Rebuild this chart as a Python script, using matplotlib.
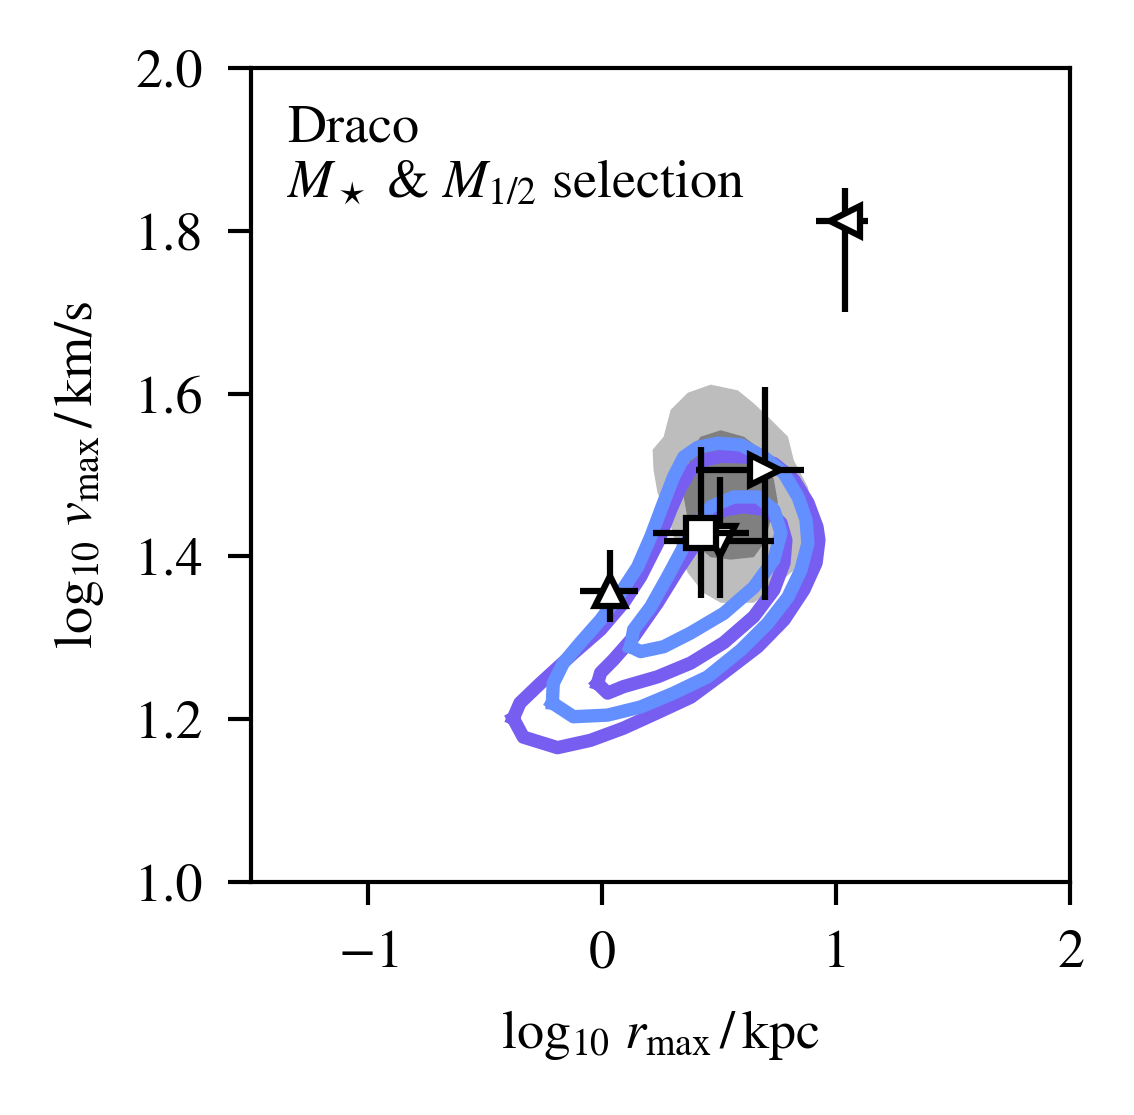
import numpy as np
import matplotlib
matplotlib.use("Agg")
import matplotlib.pyplot as plt

plt.rcParams['font.family'] = ['STIXGeneral', 'DejaVu Serif']
plt.rcParams['mathtext.fontset'] = 'stix'
plt.rcParams['font.size'] = 13

# --- data (log10 rmax [kpc], log10 vmax [km/s]) ---
# filled grey density regions (outer / inner)
grey_outer_x = [0.464, 0.580, 0.648, 0.721, 0.794, 0.819, 0.879, 0.905, 0.895, 0.819,
                0.721, 0.648, 0.507, 0.434, 0.366, 0.336, 0.306, 0.280, 0.237, 0.220,
                0.216, 0.263, 0.293, 0.366]
grey_outer_y = [1.611, 1.604, 1.588, 1.568, 1.547, 1.518, 1.485, 1.448, 1.415, 1.383,
                1.359, 1.343, 1.343, 1.355, 1.380, 1.399, 1.424, 1.453, 1.478, 1.506,
                1.531, 1.547, 1.580, 1.601]
grey_inner_x = [0.507, 0.606, 0.679, 0.734, 0.751, 0.721, 0.691, 0.648, 0.550, 0.464,
                0.392, 0.366, 0.349, 0.366, 0.379, 0.421]
grey_inner_y = [1.555, 1.547, 1.531, 1.494, 1.466, 1.445, 1.416, 1.399, 1.396, 1.399,
                1.416, 1.445, 1.473, 1.506, 1.531, 1.547]

# purple contours (outer / inner)
purple_outer_x = [-0.379, -0.336, -0.190, -0.049, 0.092, 0.237, 0.379, 0.520, 0.665, 0.777,
                  0.862, 0.914, 0.926, 0.918, 0.879, 0.819, 0.734, 0.623, 0.507, 0.434,
                  0.379, 0.336, 0.293, 0.237, 0.165, 0.092, -0.006, -0.122, -0.263, -0.350]
purple_outer_y = [1.201, 1.178, 1.165, 1.174, 1.189, 1.208, 1.227, 1.257, 1.289, 1.322,
                  1.359, 1.392, 1.420, 1.436, 1.466, 1.494, 1.514, 1.522, 1.523, 1.518,
                  1.506, 1.485, 1.457, 1.416, 1.375, 1.343, 1.310, 1.281, 1.244, 1.220]
purple_inner_x = [-0.019, 0.024, 0.092, 0.237, 0.379, 0.520, 0.648, 0.734, 0.777, 0.785,
                  0.764, 0.708, 0.606, 0.520, 0.464, 0.409, 0.323, 0.237, 0.135, 0.049,
                  -0.006]
purple_inner_y = [1.244, 1.232, 1.240, 1.252, 1.269, 1.294, 1.326, 1.359, 1.392, 1.420,
                  1.441, 1.457, 1.461, 1.457, 1.445, 1.420, 1.383, 1.343, 1.301, 1.273,
                  1.257]

# blue contours (outer / inner)
blue_outer_x = [-0.212, -0.122, 0.024, 0.165, 0.306, 0.451, 0.593, 0.708, 0.794, 0.849,
                0.879, 0.871, 0.837, 0.777, 0.691, 0.593, 0.494, 0.409, 0.349, 0.306,
                0.263, 0.208, 0.152, 0.079, -0.006, -0.092, -0.165, -0.208]
blue_outer_y = [1.220, 1.203, 1.205, 1.215, 1.232, 1.252, 1.285, 1.318, 1.350, 1.383,
                1.416, 1.445, 1.473, 1.502, 1.522, 1.537, 1.539, 1.534, 1.522, 1.498,
                1.466, 1.424, 1.387, 1.355, 1.322, 1.294, 1.269, 1.244]
blue_inner_x = [0.122, 0.165, 0.263, 0.379, 0.520, 0.648, 0.734, 0.764, 0.734, 0.665,
                0.563, 0.464, 0.409, 0.349, 0.280, 0.208, 0.135]
blue_inner_y = [1.289, 1.283, 1.289, 1.306, 1.330, 1.362, 1.396, 1.429, 1.457, 1.473,
                1.473, 1.461, 1.441, 1.412, 1.375, 1.338, 1.310]

# observational estimates: marker, x, y, xerr (lo, hi), yerr (lo, hi)
obs_markers = ['^', 'v', 's', '>', '<']
obs_x = [0.034, 0.503, 0.421, 0.695, 1.038]
obs_y = [1.357, 1.419, 1.429, 1.506, 1.812]
obs_xerr_lo = [0.128, 0.240, 0.202, 0.295, 0.124]
obs_xerr_hi = [0.120, 0.231, 0.207, 0.167, 0.098]
obs_yerr_lo = [0.038, 0.070, 0.080, 0.160, 0.112]
obs_yerr_hi = [0.051, 0.079, 0.105, 0.102, 0.041]

xticks = [-1, 0, 1, 2]
yticks = [1.0, 1.2, 1.4, 1.6, 1.8, 2.0]

fig = plt.figure(figsize=(3.78, 3.7167), dpi=300)
ax = fig.add_axes([0.221, 0.209, 0.723, 0.730])

ax.fill(grey_outer_x, grey_outer_y, color='#bdbdbd', lw=0, zorder=1)
ax.fill(grey_inner_x, grey_inner_y, color='#808080', lw=0, zorder=1.5)

def closed(xs, ys):
    return list(xs) + [xs[0]], list(ys) + [ys[0]]

for xs, ys in [(purple_outer_x, purple_outer_y), (purple_inner_x, purple_inner_y)]:
    cx, cy = closed(xs, ys)
    ax.plot(cx, cy, color='#785EF0', lw=3.2, solid_joinstyle='round', zorder=2)
for xs, ys in [(blue_outer_x, blue_outer_y), (blue_inner_x, blue_inner_y)]:
    cx, cy = closed(xs, ys)
    ax.plot(cx, cy, color='#648FFF', lw=3.2, solid_joinstyle='round', zorder=3)

for i, m in enumerate(obs_markers):
    ax.errorbar(obs_x[i], obs_y[i],
                xerr=[[obs_xerr_lo[i]], [obs_xerr_hi[i]]],
                yerr=[[obs_yerr_lo[i]], [obs_yerr_hi[i]]],
                fmt=m, ms=7, mfc='white', mec='black', mew=1.5,
                ecolor='black', elinewidth=1.5, capsize=0, zorder=4 + i)

ax.text(0.044, 0.955, 'Draco\n$M_\\star$ & $M_{1/2}$ selection',
        transform=ax.transAxes, va='top', ha='left', linespacing=1.15)

ax.set_xlim(-1.5, 2)
ax.set_ylim(1.0, 2.0)
ax.set_xticks(xticks)
ax.set_yticks(yticks)
ax.set_xticklabels(['$-1$' if t < 0 else str(t) for t in xticks])
ax.set_yticklabels(['%.1f' % t for t in yticks])
ax.tick_params(direction='out', length=5.5, width=1, pad=6)
for s in ax.spines.values():
    s.set_linewidth(1)

ax.set_xlabel('$\\log_{10}\\, r_{\\rm max}\\,/\\,{\\rm kpc}$', labelpad=7)
ax.set_ylabel('$\\log_{10}\\, v_{\\rm max}\\,/\\,{\\rm km/s}$', labelpad=7)

fig.savefig('out.png', dpi=300)
